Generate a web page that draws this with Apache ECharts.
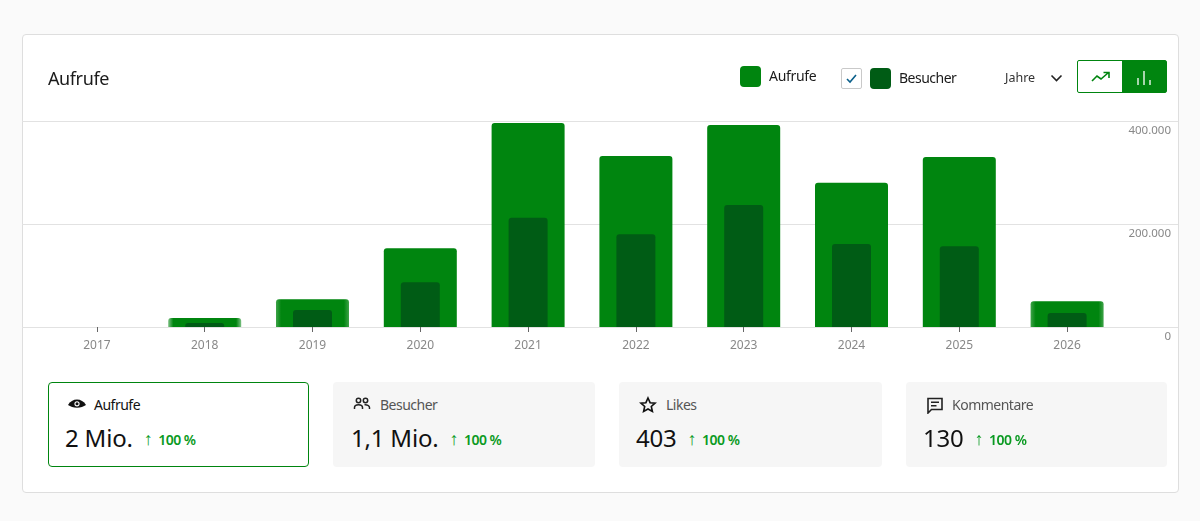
<!DOCTYPE html>
<html lang="de">
<head>
<meta charset="utf-8">
<title>Aufrufe</title>
<script src="https://cdn.jsdelivr.net/npm/echarts@6/dist/echarts.min.js"></script>
<style>
html, body { margin: 0; padding: 0; background: #fafafa; }
body { width: 1200px; height: 521px; overflow: hidden; position: relative; font-family: "Noto Sans", sans-serif; color: #1b1b1b; }
#card { position: absolute; left: 22px; top: 34px; width: 1155px; height: 457px; background: #fff; border: 1px solid #dedede; border-radius: 4px; }
#chart { position: absolute; left: 0; top: 0; width: 1200px; height: 521px; }
.abs { position: absolute; white-space: nowrap; }
.swatch { position: absolute; width: 21px; height: 21px; border-radius: 4px; }
#check { position: absolute; left: 841px; top: 68px; width: 19px; height: 19px; border: 1px solid #c9c9c9; border-radius: 2px; background: #fff; }
#btns { position: absolute; left: 1077px; top: 60px; width: 88px; height: 31px; border: 1px solid #00850f; border-radius: 2px; background: #fff; }
#btns .on { position: absolute; left: 44px; top: 0; width: 44px; height: 31px; background: #00850f; }
.metric { position: absolute; top: 382px; height: 85px; border-radius: 4px; background: #f6f6f6; box-sizing: border-box; }
.metric.active { background: #fff; border: 1px solid #00850f; }
.metric .lbl { position: absolute; top: 13px; font-size: 14px; line-height: 20px; color: #555; letter-spacing: -0.5px; }
.metric.active .lbl { color: #111; top: 12px; }
.metric .val { position: absolute; top: 39px; font-size: 24px; line-height: 34px; color: #111; letter-spacing: -0.2px; }
.metric.active .val { top: 38px; }
.metric .up { font-size: 14px; font-weight: 600; color: #0a9a22; letter-spacing: -0.5px; margin-left: 11px; vertical-align: 2px; }
.metric .arrow { font-size: 18px; font-weight: 400; line-height: 18px; margin-right: 6px; }
.metric svg { position: absolute; top: 14px; }
</style>
</head>
<body>
<div id="card"></div>
<div id="chart"></div>

<div class="abs" style="left:48px;top:65px;font-size:18px;line-height:26px;letter-spacing:-0.4px;">Aufrufe</div>

<div class="swatch" style="left:740px;top:66px;background:#00850f;"></div>
<div class="abs" style="left:769px;top:66px;font-size:14px;line-height:20px;letter-spacing:-0.3px;">Aufrufe</div>
<div id="check">
  <svg width="19" height="19" viewBox="0 0 19 19"><path d="M5 10l3 3 6-7" fill="none" stroke="#0a5f8a" stroke-width="1.6"/></svg>
</div>
<div class="swatch" style="left:870px;top:68px;background:#005c15;"></div>
<div class="abs" style="left:899px;top:68px;font-size:14px;line-height:20px;letter-spacing:-0.5px;">Besucher</div>
<div class="abs" style="left:1005px;top:69px;font-size:12.5px;line-height:18px;color:#333;">Jahre</div>
<svg class="abs" style="left:1050px;top:74px;" width="13" height="9" viewBox="0 0 13 9"><path d="M1.500 1.500l5 5 5-5" fill="none" stroke="#222" stroke-width="1.600"/></svg>
<div id="btns">
  <svg class="abs" style="left:13px;top:10px;" width="20" height="12" viewBox="0 0 20 12"><path d="M1 10l5-5 4 3 7-6M12.500 1.500H18V7" fill="none" stroke="#00850f" stroke-width="1.600"/></svg>
  <div class="on">
    <svg class="abs" style="left:14px;top:9px;" width="16" height="16" viewBox="0 0 16 16"><path d="M2 8v7M8 1v14M14 10v5" fill="none" stroke="#fff" stroke-width="1.300"/></svg>
  </div>
</div>

<div id="metrics"></div>

<script>
var years = ['2017', '2018', '2019', '2020', '2021', '2022', '2023', '2024', '2025', '2026'];
var aufrufe = [0, 17500, 54000, 153000, 396000, 332000, 392000, 280000, 330000, 50000];
var besucher = [0, 8000, 33000, 87000, 212000, 180000, 237000, 161000, 157000, 27000];

var metricNames = ['Aufrufe', 'Besucher', 'Likes', 'Kommentare'];
var metricValues = ['2 Mio.', '1,1 Mio.', '403', '130'];
var metricTrends = ['100 %', '100 %', '100 %', '100 %'];

var metricLeft = [48, 333, 619, 906];
var metricWidth = [261, 262, 263, 261];
var metricLabelLeft = [45, 47, 47, 46];
var metricValueLeft = [16, 18, 17, 17];
var metricIconLeft = [19, 20, 20, 20];
var metricIcons = [
    '<path d="M0 8c2-3.600 5.500-5.500 9-5.500s7 1.900 9 5.500c-2.300 1.500-5.500 2.800-9 2.800S2.300 9.500 0 8z" fill="#111"/><circle cx="9" cy="6.800" r="2.600" fill="#fff"/><circle cx="9" cy="6.800" r="1.500" fill="#111"/>',
    '<g fill="none" stroke="#222" stroke-width="1.500"><circle cx="5.500" cy="4.500" r="2.200"/><circle cx="12.500" cy="4.500" r="2.200"/><path d="M1.500 13v-1.500c0-1.800 2-2.800 4-2.800s4 1 4 2.800V13M11.500 8.800c2.500-.3 5 .8 5 2.700V13"/></g>',
    '<path d="M9 2l2.100 4.700 5 .5-3.800 3.300 1.100 5L9 13l-4.400 2.500 1.100-5L1.900 7.200l5-.5z" fill="none" stroke="#111" stroke-width="1.600"/>',
    '<path d="M2 2.500h14v11H5.500L2 17z" fill="none" stroke="#222" stroke-width="1.600"/><path d="M5 6.300h8M5 9.700h5.500" stroke="#222" stroke-width="1.500"/>'
];

var holder = document.getElementById('metrics');
metricNames.forEach(function (name, i) {
    var box = document.createElement('div');
    box.className = 'metric' + (i === 0 ? ' active' : '');
    box.style.left = metricLeft[i] + 'px';
    box.style.width = metricWidth[i] + 'px';
    box.innerHTML = '<svg style="left:' + metricIconLeft[i] + 'px" width="18" height="18" viewBox="0 0 18 18">' + metricIcons[i] + '</svg>' +
        '<div class="lbl" style="left:' + metricLabelLeft[i] + 'px">' + name + '</div>' +
        '<div class="val" style="left:' + metricValueLeft[i] + 'px">' + metricValues[i] +
        '<span class="up"><span class="arrow">↑</span>' + metricTrends[i] + '</span></div>';
    holder.appendChild(box);
});

// the short bars have soft left and right edges in the original
function softEdge(color, edge) {
    return new echarts.graphic.LinearGradient(0, 0, 1, 0, [
        { offset: 0, color: edge },
        { offset: 0.07, color: color },
        { offset: 0.93, color: color },
        { offset: 1, color: edge }
    ]);
}

var softBars = { '2018': '#7cc083', '2019': '#3fa349', '2026': '#3fa349' };

var aufrufeData = aufrufe.map(function (v, i) {
    var edge = softBars[years[i]];
    return edge ? { value: v, itemStyle: { color: softEdge('#00850f', edge) } } : v;
});

var dom = document.getElementById('chart');
var myChart = echarts.init(dom, null, { renderer: 'canvas' });

var option = {
    animation: false,
    backgroundColor: 'transparent',
    // grid 0 only carries the full width lines, the bars sit in grid 1
    grid: [
        { left: 22, right: 22, top: 121, height: 206 },
        { left: 43, right: 79, top: 121, height: 206 }
    ],
    xAxis: [
        { type: 'value', gridIndex: 0, show: false },
        {
            type: 'category',
            gridIndex: 1,
            data: years,
            axisLine: { show: false },
            axisTick: { show: true, alignWithLabel: true, length: 5, lineStyle: { color: '#666' } },
            axisLabel: { color: '#888', fontSize: 12, margin: 13, fontFamily: 'Noto Sans' }
        },
        { type: 'category', gridIndex: 1, data: years, show: false }
    ],
    yAxis: [
        {
            type: 'value',
            gridIndex: 0,
            position: 'right',
            min: 0,
            max: 400000,
            interval: 200000,
            axisLine: { show: false },
            axisTick: { show: false },
            splitLine: { lineStyle: { color: '#e2e2e2' } },
            axisLabel: {
                inside: true,
                margin: 7,
                verticalAlign: 'top',
                padding: [4, 0, 0, 0],
                color: '#888',
                fontSize: 11.5,
                fontFamily: 'Noto Sans',
                formatter: function (v) { return v === 0 ? '0' : v.toLocaleString('de-DE'); }
            }
        },
        { type: 'value', gridIndex: 1, min: 0, max: 400000, show: false }
    ],
    series: [
        {
            name: 'Aufrufe',
            type: 'bar',
            xAxisIndex: 1,
            yAxisIndex: 1,
            data: aufrufeData,
            barWidth: 73,
            itemStyle: { color: '#00850f', borderRadius: [3, 3, 0, 0] },
            z: 2
        },
        {
            name: 'Besucher',
            type: 'bar',
            xAxisIndex: 2,
            yAxisIndex: 1,
            data: besucher,
            barWidth: 39,
            itemStyle: { color: '#005c15', borderRadius: [3, 3, 0, 0] },
            z: 3
        }
    ]
};
myChart.setOption(option);
</script>
</body>
</html>
